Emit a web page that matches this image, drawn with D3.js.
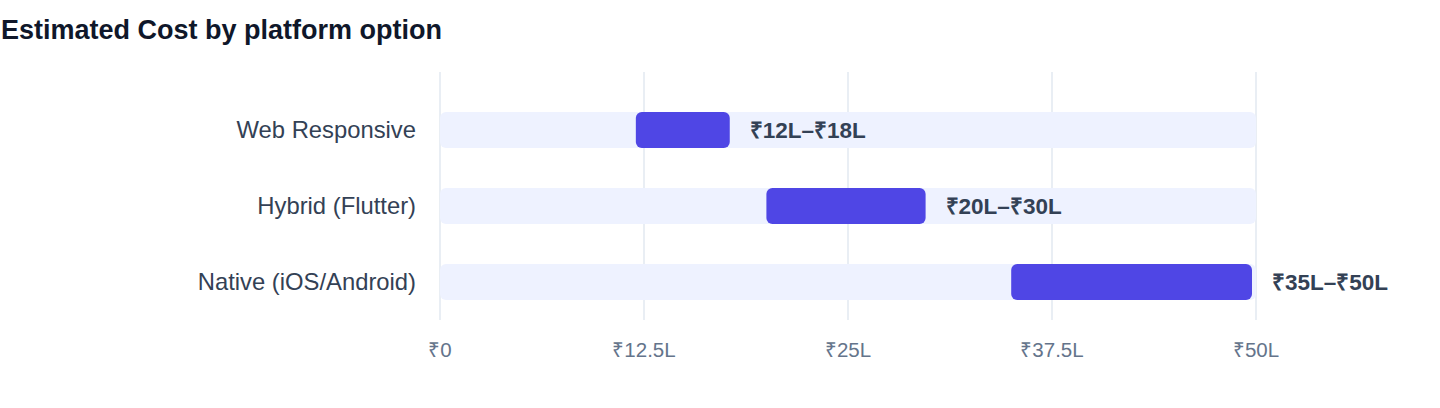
<!DOCTYPE html>
<html>
<head>
<meta charset="utf-8">
<script src="https://cdn.jsdelivr.net/npm/d3@7"></script>
<style>
  body { margin: 0; background: #fff; font-family: "Helvetica Neue", Helvetica, Arial, "Liberation Sans", sans-serif; }
</style>
</head>
<body>
<div id="container"></div>
<script>
/**
 * CONSTANTS AND GLOBALS
 * */
const width = 1440,
    height = 408,
    margin = { top: 72, bottom: 88, left: 440, right: 184 };

const platforms = ["Web Responsive", "Hybrid (Flutter)", "Native (iOS/Android)"];
const lowCost = [12, 20, 35];   // in lakh
const highCost = [18, 30, 50];
const rangeLabels = ["₹12L–₹18L", "₹20L–₹30L", "₹35L–₹50L"];
const tickValues = [0, 12.5, 25, 37.5, 50];
const tickLabels = ["₹0", "₹12.5L", "₹25L", "₹37.5L", "₹50L"];

const rows = platforms.map((p, i) => ({ name: p, lo: lowCost[i], hi: highCost[i], label: rangeLabels[i] }));

const svg = d3.select("#container")
    .append("svg")
    .attr("width", width)
    .attr("height", height);

svg.append("text")
    .attr("x", 1)
    .attr("y", 39)
    .attr("fill", "#0f172a")
    .attr("font-size", 27)
    .attr("font-weight", 700)
    .text("Estimated Cost by platform option");

const xScale = d3.scaleLinear()
    .domain([0, 50])
    .range([margin.left, width - margin.right]);

const yScale = d3.scaleBand()
    .domain(platforms)
    .range([92, 320])
    .paddingInner(0.526)
    .paddingOuter(0.263);

// grid lines
svg.append("g")
    .selectAll("line")
    .data(tickValues)
    .join("line")
    .attr("x1", d => xScale(d))
    .attr("x2", d => xScale(d))
    .attr("y1", margin.top)
    .attr("y2", height - margin.bottom)
    .attr("stroke", "#e2e8f0")
    .attr("stroke-width", 1.5);

// tick labels
svg.append("g")
    .selectAll("text")
    .data(tickValues)
    .join("text")
    .attr("x", d => xScale(d))
    .attr("y", 357)
    .attr("text-anchor", "middle")
    .attr("fill", "#64748b")
    .attr("font-size", 20.5)
    .text((d, i) => tickLabels[i]);

const bh = yScale.bandwidth();

// background tracks
svg.append("g")
    .selectAll("rect")
    .data(rows)
    .join("rect")
    .attr("x", xScale(0))
    .attr("y", d => yScale(d.name))
    .attr("width", xScale(50) - xScale(0))
    .attr("height", bh)
    .attr("rx", 6)
    .attr("fill", "#eef2ff");

// range bars
svg.append("g")
    .selectAll("rect")
    .data(rows)
    .join("rect")
    .attr("x", d => xScale(d.lo))
    .attr("y", d => yScale(d.name))
    .attr("width", d => xScale(d.hi) - xScale(d.lo) - 4)
    .attr("height", bh)
    .attr("rx", 6)
    .attr("fill", "#4f46e5");

// range labels
svg.append("g")
    .selectAll("text")
    .data(rows)
    .join("text")
    .attr("x", d => xScale(d.hi) + 16)
    .attr("y", d => yScale(d.name) + bh / 2)
    .attr("dy", "0.35em")
    .attr("fill", "#334155")
    .attr("font-size", 22.5)
    .attr("font-weight", 700)
    .text(d => d.label);

// category labels
svg.append("g")
    .selectAll("text")
    .data(rows)
    .join("text")
    .attr("x", margin.left - 24)
    .attr("y", d => yScale(d.name) + bh / 2)
    .attr("dy", "0.35em")
    .attr("text-anchor", "end")
    .attr("fill", "#334155")
    .attr("font-size", 23.8)
    .text(d => d.name);
</script>
</body>
</html>
